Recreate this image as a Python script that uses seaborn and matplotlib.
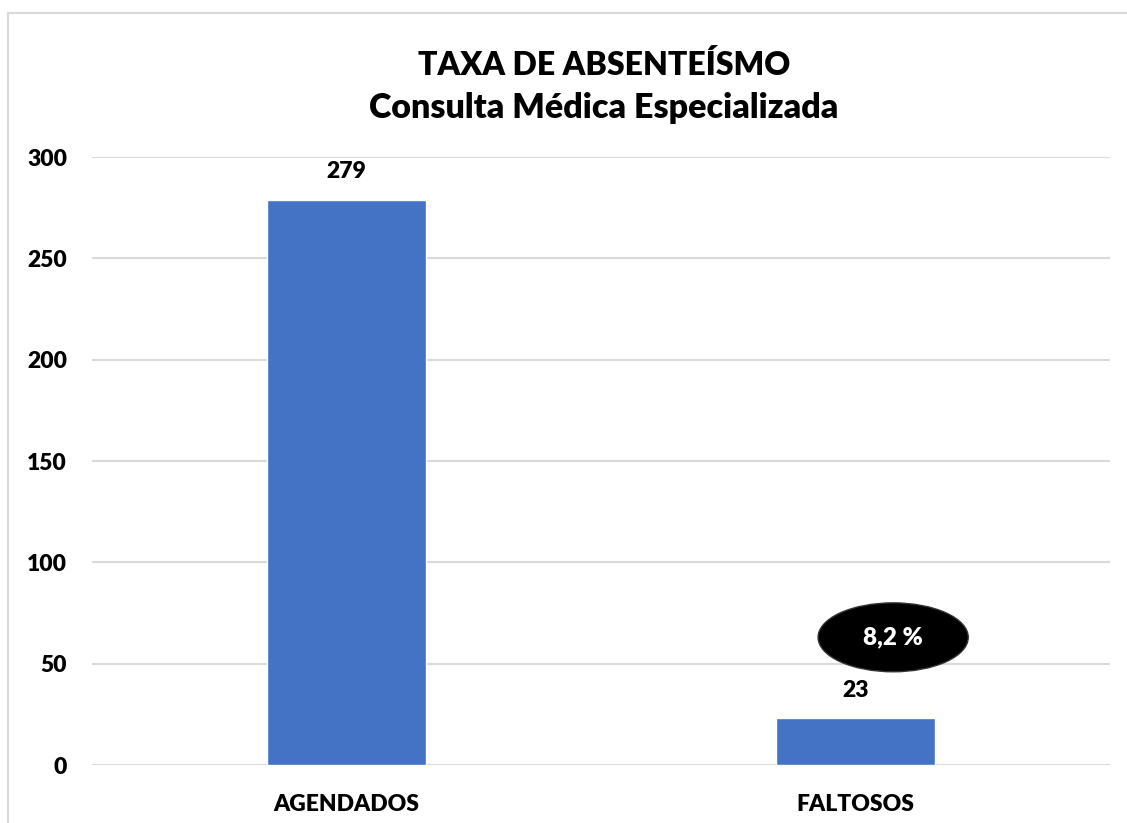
import matplotlib
matplotlib.use("Agg")
import matplotlib.pyplot as plt
import seaborn as sns
import pandas as pd
from matplotlib.patches import Ellipse, Rectangle

categories = ["AGENDADOS", "FALTOSOS"]
values = [279, 23]
rate_label = "8,2 %"
title_lines = ["TAXA DE ABSENTEÍSMO", "Consulta Médica Especializada"]
yticks = [0, 50, 100, 150, 200, 250, 300]

sns.set_theme(style="white")
plt.rcParams['font.family'] = ['Lato', 'DejaVu Sans']
plt.rcParams['font.weight'] = 'bold'

W, H = 1127, 823
fig = plt.figure(figsize=(W / 100, H / 100), dpi=100)
ax = fig.add_axes([92 / W, 1 - 765 / H, (1110 - 92) / W, (765 - 157) / H])

df = pd.DataFrame({"cat": categories, "val": values})
sns.barplot(data=df, x="cat", y="val", color="#4472C4", saturation=1,
            width=0.314, ax=ax)

ax.set_xlim(-0.5, 1.5)
ax.set_ylim(0, 300)
ax.set_yticks(yticks)
ax.yaxis.grid(True, color="#D9D9D9", linewidth=1.5)
ax.set_axisbelow(True)
for s in ax.spines.values():
    s.set_visible(False)
ax.set_xlabel("")
ax.set_ylabel("")
ax.tick_params(axis="y", length=0, pad=18, labelsize=16.5, labelcolor="black")
ax.tick_params(axis="x", length=0, pad=21, labelsize=16.5, labelcolor="black")
for lbl in ax.get_xticklabels() + ax.get_yticklabels():
    lbl.set_fontweight("heavy")

for i, v in enumerate(values):
    ax.annotate(str(v), (i, v), xytext=(0, 20), textcoords="offset points",
                ha="center", va="center", fontsize=16.5, fontweight="heavy",
                color="black", annotation_clip=False)

ell = Ellipse((1.074, 63), width=0.295, height=34, facecolor="black",
              edgecolor="#333333", linewidth=1, zorder=5, clip_on=False)
ax.add_patch(ell)
ax.text(1.074, 63, rate_label, ha="center", va="center", color="white",
        fontsize=17.5, fontweight="heavy", zorder=6)

fig.text(604 / W, 1 - 65 / H, title_lines[0], ha="center", va="center",
         fontsize=23, fontweight="heavy", color="black")
fig.text(604 / W, 1 - 108 / H, title_lines[1], ha="center", va="center",
         fontsize=24.5, fontweight="heavy", color="black")

fig.patches.append(Rectangle((8 / W, -0.05), 1.2, 1 - 13 / H + 0.05,
                             transform=fig.transFigure, fill=False,
                             edgecolor="#D9D9D9", linewidth=1.5))

fig.savefig("out.png", dpi=100)
